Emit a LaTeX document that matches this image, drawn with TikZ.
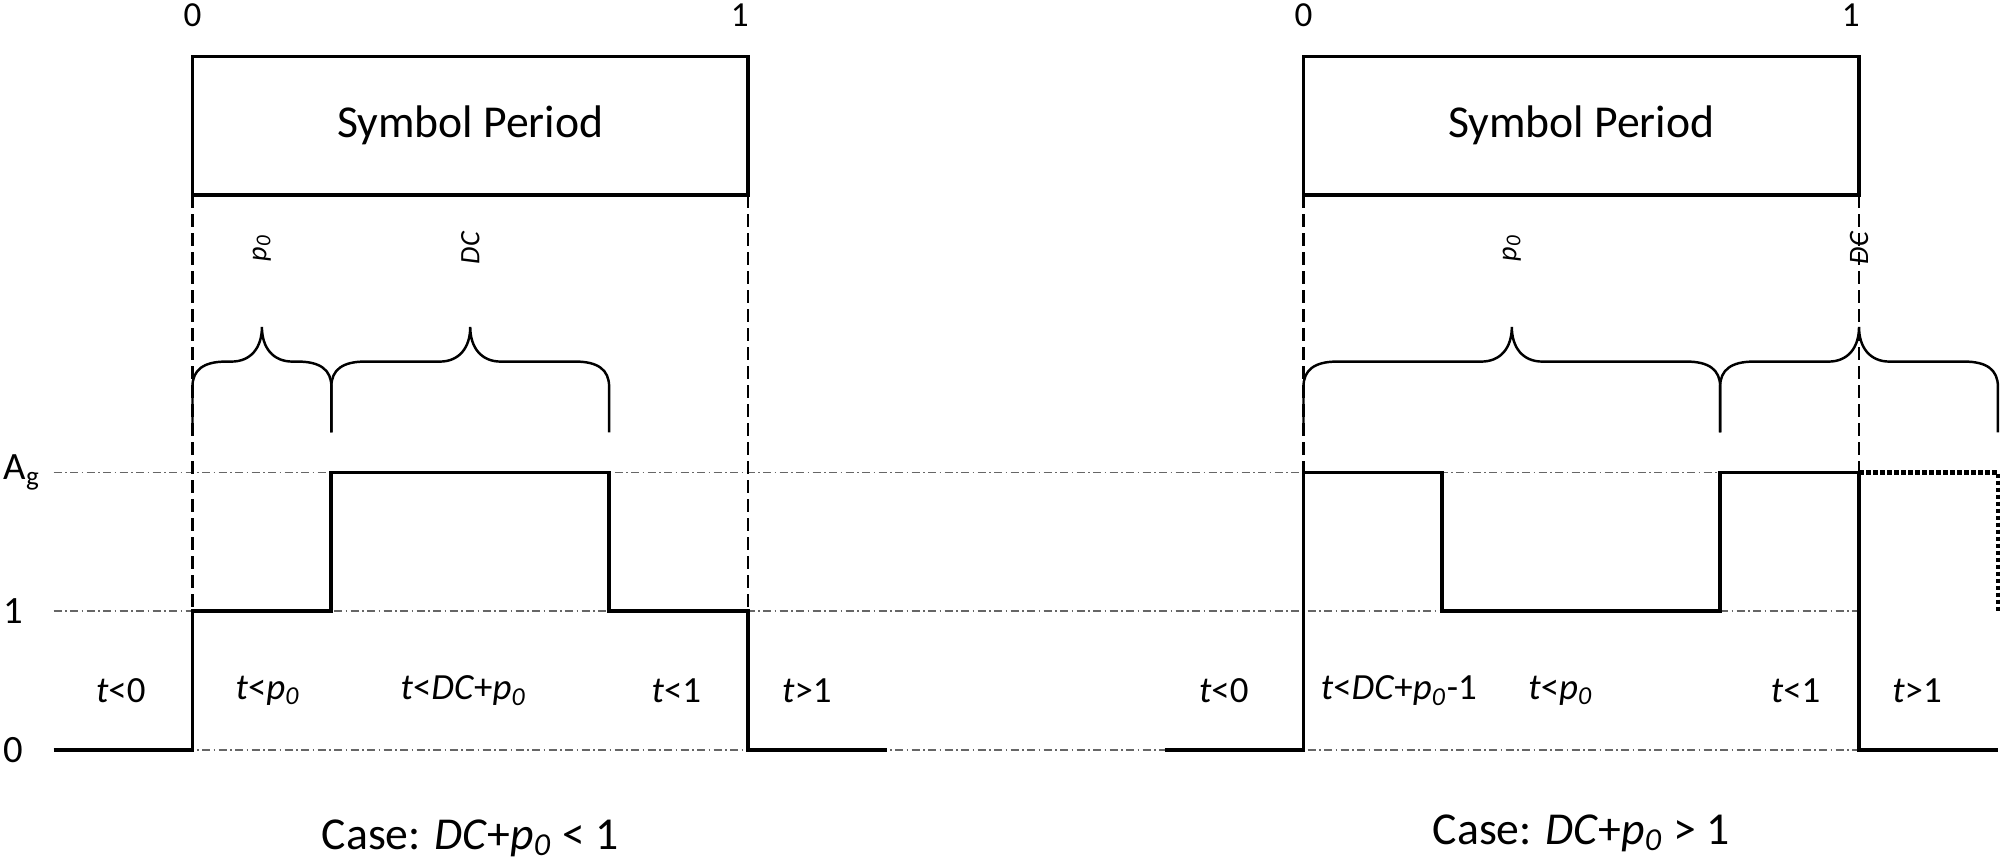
\documentclass[tikz,border=0pt]{standalone}
\usepackage{fontspec}
\setmainfont{Carlito}
\usetikzlibrary{positioning}
\newcommand{\pz}{\textit{p}\textsubscript{\textit{0}}}
% curly brace: left end, tip, right end
\newcommand{\Curly}[3]{%
  \draw[brc] (#1,2.29) -- (#1,2.62)
    .. controls (#1,2.74) and ({#1+0.02},2.80) .. ({#1+0.06},2.80)
    -- ({#2-0.055},2.80)
    .. controls ({#2-0.02},2.80) and (#2,2.90) .. (#2,3.05)
    .. controls (#2,2.90) and ({#2+0.02},2.80) .. ({#2+0.055},2.80)
    -- ({#3-0.06},2.80)
    .. controls ({#3-0.02},2.80) and (#3,2.74) .. (#3,2.62)
    -- (#3,2.29);%
}
\tikzset{
  sig/.style={line width=1.1pt, line join=miter},
  period/.style={draw, line width=0.95pt, minimum width=5.555cm, minimum height=1.387cm,
                 font=\fontsize{13}{15}\selectfont, inner sep=0pt},
  guide/.style={line width=0.6pt, dash pattern=on 1.3mm off 0.6mm},
  level/.style={black!60, line width=0.45pt, dash pattern=on 0.8mm off 0.35mm on 0.15mm off 0.35mm},
  brc/.style={line width=0.7pt},
  ext/.style={line width=1.2pt, dash pattern=on 0.45mm off 0.25mm},
  tick/.style={font=\fontsize{10}{12}\selectfont, inner sep=0pt},
  region/.style={font=\fontsize{10.5}{12}\selectfont, inner sep=0pt},
  span/.style={font=\fontsize{8}{9}\selectfont, rotate=90, inner sep=0pt},
  axis/.style={font=\fontsize{11}{13}\selectfont, anchor=west, inner sep=0pt},
  case/.style={font=\fontsize{13}{15}\selectfont, inner sep=0pt},
}
\begin{document}
\begin{tikzpicture}[x=5.555cm, y=1.387cm]
  \useasboundingbox (-0.3465,-0.815) rectangle (3.2538,5.407);
  % levels
  \draw[level] (-0.25,2) -- (3,2);
  \draw[level] (-0.25,1) -- (3,1);
  \draw[level] (-0.25,0) -- (3.25,0);
  \node[axis] (yAg) at (-0.341,2) {A\textsubscript{g}};
  \node[axis] (yOne) at (-0.341,1) {1};
  \node[axis] (yZero) at (-0.341,0) {0};

  % case DC+p0 < 1
  \begin{scope}
    \node[tick] (l0) at (0,5.30) {0};
    \node[tick] (l1) at (0.985,5.30) {1};
    \node[period] (boxL) at (0.5,4.5) {Symbol Period};
    \draw[guide] (0,4) -- (0,1);
    \draw[guide] (1,4) -- (1,1);
    \Curly{0}{0.125}{0.25}
    \Curly{0.25}{0.5}{0.75}
    \node[span] (pL) at (0.125,3.62) {\pz};
    \node[span] (dL) at (0.5,3.62) {\textit{DC}};
    \draw[sig] (-0.25,0) -- (0,0) -- (0,1) -- (0.25,1) -- (0.25,2) -- (0.75,2)
               -- (0.75,1) -- (1,1) -- (1,0) -- (1.25,0);
    \node[region] (rL1) at (-0.129,0.43) {\textit{t}<0};
    \node[region] (rL2) at (0.136,0.43) {\textit{t}<\pz};
    \node[region] (rL3) at (0.488,0.43) {\textit{t}<\textit{DC}+\pz};
    \node[region] (rL4) at (0.871,0.43) {\textit{t}<1};
    \node[region] (rL5) at (1.106,0.43) {\textit{t}>1};
    \node[case] (caseL) at (0.5,-0.635) {Case: \textit{DC}+\pz{} < 1};
  \end{scope}

  % case DC+p0 > 1
  \begin{scope}[shift={(2,0)}]
    \node[tick] (r0) at (0,5.30) {0};
    \node[tick] (r1) at (0.985,5.30) {1};
    \node[period] (boxR) at (0.5,4.5) {Symbol Period};
    \draw[guide] (0,4) -- (0,2);
    \draw[guide] (1,4) -- (1,2);
    \Curly{0}{0.375}{0.75}
    \Curly{0.75}{1}{1.25}
    \node[span] (pR) at (0.375,3.62) {\pz};
    \node[span] (dR) at (1,3.62) {\textit{DC}};
    \draw[sig] (-0.25,0) -- (0,0) -- (0,2) -- (0.25,2) -- (0.25,1) -- (0.75,1)
               -- (0.75,2) -- (1,2) -- (1,0) -- (1.25,0);
    \draw[ext] (1,2) -- (1.25,2) -- (1.25,1);
    \node[region] (rR1) at (-0.1435,0.43) {\textit{t}<0};
    \node[region] (rR2) at (0.1716,0.43) {\textit{t}<\textit{DC}+\pz-1};
    \node[region] (rR3) at (0.463,0.43) {\textit{t}<\pz};
    \node[region] (rR4) at (0.886,0.43) {\textit{t}<1};
    \node[region] (rR5) at (1.1045,0.43) {\textit{t}>1};
    \node[case] (caseR) at (0.5,-0.60) {Case: \textit{DC}+\pz{} > 1};
  \end{scope}
\end{tikzpicture}
\end{document}
